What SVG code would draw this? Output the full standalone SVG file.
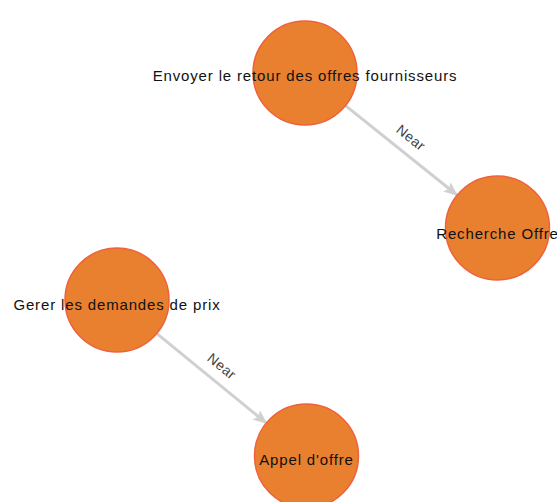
<svg xmlns="http://www.w3.org/2000/svg" width="557" height="502" viewBox="0 0 557 502">
<style>
.node circle{fill:#e8802f;stroke:#f0603c;stroke-width:1.5}
.node text{font-family:"Liberation Sans",Arial,sans-serif;font-size:15px;letter-spacing:0.85px;fill:#111;text-anchor:middle}
.edge line{stroke:#d0d0d0;stroke-width:3;marker-end:url(#arrow)}
.edge text{font-family:"Liberation Sans",Arial,sans-serif;font-size:14px;letter-spacing:0.5px;fill:#444;text-anchor:middle}
</style>
<defs>
<marker id="arrow" markerUnits="userSpaceOnUse" markerWidth="14" markerHeight="12" refX="13" refY="6" orient="auto" viewBox="0 0 14 12">
<path d="M0,0 L14,6 L0,12 L3,6 Z" fill="#d0d0d0"/>
</marker>
</defs>
<g id="connectors">
<g class="edge" id="e1">
<line x1="345.5" y1="105.7" x2="457" y2="195"/>
<text transform="translate(401,150) rotate(38.9)" y="-11">Near</text>
</g>
<g class="edge" id="e2">
<line x1="157.2" y1="333.9" x2="266.3" y2="423.1"/>
<text transform="translate(211.8,378.5) rotate(39.3)" y="-11">Near</text>
</g>
</g>
<g class="node" id="n1"><circle cx="305" cy="73" r="52"/><text x="305" y="81">Envoyer le retour des offres fournisseurs</text></g>
<g class="node" id="n2"><circle cx="497.5" cy="228" r="52"/><text x="497.5" y="239">Recherche Offre</text></g>
<g class="node" id="n3"><circle cx="117" cy="300" r="52"/><text x="117" y="310">Gerer les demandes de prix</text></g>
<g class="node" id="n4"><circle cx="306.5" cy="456" r="52"/><text x="306.5" y="465">Appel d'offre</text></g>
</svg>
